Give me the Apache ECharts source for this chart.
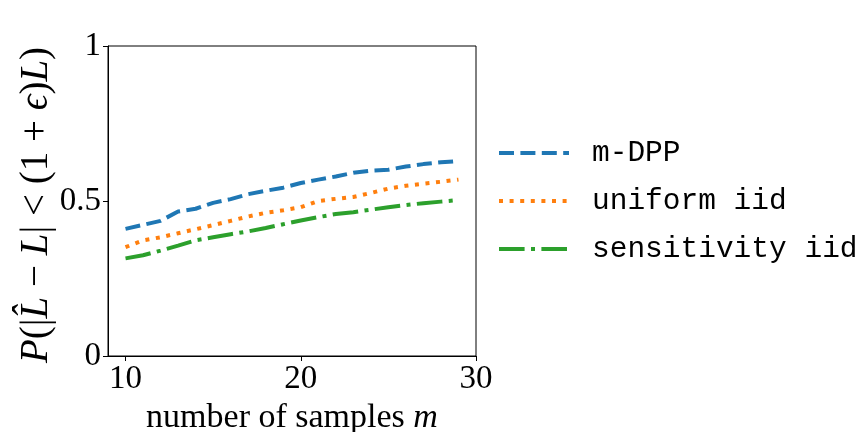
<!DOCTYPE html>
<html>
<head>
<meta charset="utf-8">
<script src="https://cdn.jsdelivr.net/npm/echarts@6/dist/echarts.min.js"></script>
<style>
  html, body { margin: 0; padding: 0; background: #fff; }
  #chart { width: 864px; height: 432px; }
</style>
</head>
<body>
<div id="chart"></div>
<script>
// samples m
const samples = [10, 11, 12, 13, 14, 15, 16, 17, 18, 19, 20, 21, 22, 23, 24, 25, 26, 27, 28, 29];
const mDpp = [0.41, 0.423, 0.436, 0.466, 0.475, 0.494, 0.506, 0.522, 0.533, 0.543,
              0.558, 0.569, 0.579, 0.591, 0.598, 0.601, 0.611, 0.619, 0.625, 0.629];
const uniformIid = [0.351, 0.373, 0.383, 0.396, 0.409, 0.422, 0.436, 0.45, 0.462, 0.47,
                    0.48, 0.5, 0.507, 0.513, 0.526, 0.54, 0.549, 0.556, 0.562, 0.569];
const sensitivityIid = [0.315, 0.325, 0.34, 0.356, 0.373, 0.383, 0.393, 0.402, 0.413, 0.425,
                        0.437, 0.448, 0.458, 0.464, 0.472, 0.48, 0.487, 0.493, 0.498, 0.503];
const xTicks = [10, 20, 30];

const serif = '"Liberation Serif", "DejaVu Serif", serif';

function pairs(ys) {
    return samples.map((x, i) => [x, ys[i]]);
}

const chart = echarts.init(document.getElementById('chart'));

const option = {
    backgroundColor: '#fff',
    animation: false,
    grid: {
        left: 108, right: 388, top: 46, bottom: 76,
        containLabel: false, outerBoundsMode: 'none',
        show: true, borderColor: '#000', borderWidth: 1
    },
    legend: {
        left: 492, top: 133,
        orient: 'vertical',
        itemWidth: 70, itemHeight: 14, itemGap: 18,
        itemStyle: { opacity: 0 },
        lineStyle: { width: 4 },
        textStyle: { fontFamily: '"Liberation Mono", monospace', fontSize: 29.5, color: '#000', padding: [0, 0, 0, 18] },
        data: ['m-DPP', 'uniform iid', 'sensitivity iid']
    },
    xAxis: {
        type: 'value', min: 9, max: 30,
        name: 'number of samples {i|m}',
        nameLocation: 'middle', nameGap: 41,
        nameTextStyle: {
            fontFamily: serif, fontSize: 34, color: '#000',
            rich: { i: { fontFamily: serif, fontSize: 34, fontStyle: 'italic', color: '#000' } }
        },
        splitLine: { show: false },
        axisLine: { show: true, onZero: false, lineStyle: { color: '#000', width: 1 } },
        axisTick: { show: true, length: 5, lineStyle: { color: '#000' }, customValues: xTicks },
        axisLabel: { fontFamily: serif, fontSize: 33, color: '#000', margin: 7, customValues: xTicks }
    },
    yAxis: {
        type: 'value', min: 0, max: 1, interval: 0.5,
        name: '{i|P}(|{i|L̂} − {i|L}| < (1 + {i|ϵ}){i|L})',
        nameLocation: 'middle', nameGap: 52, nameRotate: 90,
        nameTextStyle: {
            fontFamily: serif, fontSize: 39, color: '#000', padding: [0, 8, 0, 0],
            rich: { i: { fontFamily: serif, fontSize: 39, fontStyle: 'italic', color: '#000' } }
        },
        splitLine: { show: false },
        axisLine: { show: true, lineStyle: { color: '#000', width: 1 } },
        axisTick: { show: true, length: 5, lineStyle: { color: '#000' } },
        axisLabel: { fontFamily: serif, fontSize: 33, color: '#000', margin: 7 }
    },
    series: [{
        name: 'm-DPP', type: 'line', data: pairs(mDpp),
        symbol: 'none', color: '#1f77b4',
        lineStyle: { width: 4, color: '#1f77b4', type: [15, 6.4] }
    }, {
        name: 'uniform iid', type: 'line', data: pairs(uniformIid),
        symbol: 'none', color: '#ff7f0e',
        lineStyle: { width: 4, color: '#ff7f0e', type: [4, 6.6] }
    }, {
        name: 'sensitivity iid', type: 'line', data: pairs(sensitivityIid),
        symbol: 'none', color: '#2ca02c',
        lineStyle: { width: 4, color: '#2ca02c', type: [25.6, 6.4, 4, 6.4] }
    }]
};

chart.setOption(option);
</script>
</body>
</html>
